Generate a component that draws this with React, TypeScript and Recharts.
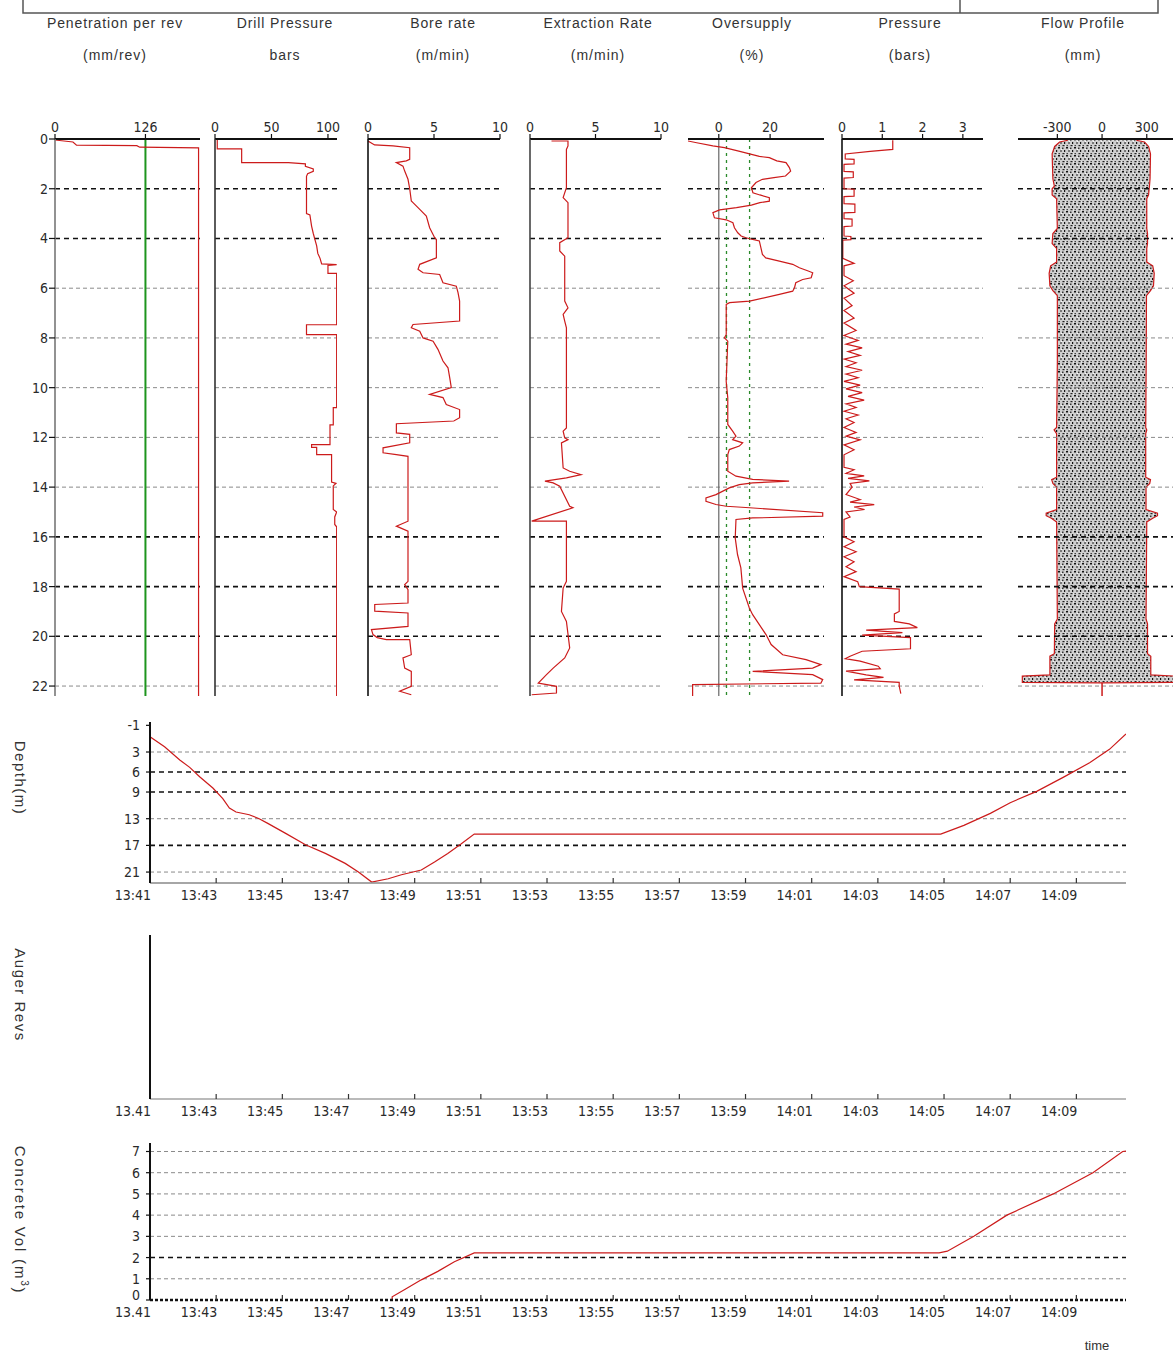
import React from 'react';
import { LineChart, Line, XAxis, YAxis, ReferenceLine, ComposedChart, Area } from 'recharts';

type Pair = [number, number];

// ---------------- DATA ----------------
const panelTitles = ['Penetration per rev', 'Drill Pressure', 'Bore rate', 'Extraction Rate', 'Oversupply', 'Pressure', 'Flow Profile'];
const panelUnits = ['(mm/rev)', 'bars', '(m/min)', '(m/min)', '(%)', '(bars)', '(mm)'];

const depthTicks = [0, 2, 4, 6, 8, 10, 12, 14, 16, 18, 20, 22];
const boldDepthGrid = [2, 4, 16, 18, 20];
const lightDepthGrid = [6, 8, 10, 12, 14, 22];

// [depth m, value]
const penetrationProfile: Pair[] = [[0.04, 0], [0.12, 25], [0.25, 30], [0.27, 114], [0.33, 118], [0.36, 200], [22.4, 200]];
const penetrationTarget = 126;

const drillPressureProfile: Pair[] = [
  [0.0, 2], [0.4, 2], [0.4, 23.6], [0.95, 23.6], [0.95, 65], [1.0, 80], [1.1, 80], [1.2, 87], [1.3, 87], [1.4, 82], [1.5, 81],
  [3.0, 81], [3.05, 84], [3.5, 85.5], [3.8, 87], [4.3, 90], [4.6, 91], [4.8, 93], [5.02, 94.4], [5.05, 107.7], [5.08, 100],
  [5.4, 100], [5.4, 107.7], [7.47, 107.7], [7.47, 81], [7.87, 81], [7.87, 107.7], [10.8, 107.7], [10.8, 104.7], [11.5, 104.7],
  [11.5, 101.8], [12.29, 101.8], [12.29, 85.5], [12.4, 85.5], [12.4, 90], [12.69, 90], [12.69, 103.2], [13.8, 103.2],
  [13.85, 107], [13.95, 104.7], [14.9, 104.7], [15.0, 107.7], [15.2, 106], [15.5, 106], [15.6, 107.7], [22.4, 107.7],
];

const boreRateProfile: Pair[] = [
  [0.08, 0], [0.24, 0.5], [0.28, 1.9], [0.35, 3.16], [0.82, 3.16], [0.88, 2.9], [0.95, 2.15], [1.09, 2.65], [1.29, 2.78],
  [1.62, 3.03], [2.0, 3.16], [2.49, 3.28], [2.56, 3.41], [2.83, 3.92], [3.1, 4.42], [3.57, 4.67], [3.97, 5.05], [4.04, 5.18],
  [4.78, 5.18], [5.04, 3.92], [5.24, 3.79], [5.38, 4.17], [5.45, 5.43], [5.78, 5.68], [5.92, 6.69], [6.18, 6.82], [6.52, 6.94],
  [7.32, 6.94], [7.46, 3.41], [7.59, 3.28], [7.73, 3.92], [8.0, 4.17], [8.13, 4.93], [8.46, 5.3], [8.93, 5.68], [9.2, 6.06],
  [9.6, 6.19], [10.0, 6.31], [10.27, 4.67], [10.4, 5.68], [10.68, 5.93], [10.88, 6.94], [11.21, 6.94], [11.34, 6.5],
  [11.45, 2.15], [11.82, 2.15], [11.88, 3.16], [12.22, 3.16], [12.42, 1.14], [12.62, 1.14], [12.69, 2.15], [12.76, 3.03],
  [15.37, 3.03], [15.57, 2.15], [15.77, 3.03], [17.79, 3.03], [17.92, 2.78], [18.12, 3.03], [18.66, 3.03], [18.72, 0.51],
  [18.99, 0.51], [19.06, 3.03], [19.6, 3.03], [19.73, 0.26], [19.93, 0.38], [20.05, 0.7], [20.13, 1.39], [20.13, 3.16],
  [20.74, 3.28], [20.87, 2.65], [21.28, 2.78], [21.41, 3.28], [22.01, 3.28], [22.21, 2.4], [22.35, 3.28],
];

const extractionRateProfile: Pair[] = [
  [0.08, 1.64], [0.08, 2.9], [0.28, 2.9], [0.42, 2.78], [1.96, 2.78], [2.36, 2.53], [2.56, 2.9], [3.97, 2.9], [4.17, 2.27],
  [4.5, 2.27], [4.71, 2.65], [6.52, 2.65], [6.79, 2.9], [7.05, 2.53], [7.32, 2.65], [7.59, 2.78], [11.62, 2.78], [11.75, 2.53],
  [12.02, 2.65], [12.09, 2.9], [12.22, 2.4], [13.23, 2.53], [13.36, 3.03], [13.5, 3.9], [13.63, 2.78], [13.76, 1.14],
  [13.83, 1.77], [13.96, 2.27], [14.77, 3.03], [14.83, 3.28], [15.37, 0.13], [15.37, 2.78], [17.79, 2.78], [18.06, 2.53],
  [19.0, 2.4], [19.4, 2.78], [20.47, 3.03], [20.87, 2.65], [21.28, 1.77], [21.54, 1.26], [21.88, 0.63], [22.01, 2.02],
  [22.28, 2.02], [22.35, 0.13],
];

const oversupplyProfile: Pair[] = [
  [0.08, -12], [0.15, -8.6], [0.28, -2.3], [0.35, 2.2], [0.48, 7.4], [0.6, 12], [0.7, 15.8], [0.75, 19.7], [0.88, 22.6],
  [0.95, 26.2], [1.15, 27.5], [1.29, 28], [1.49, 26], [1.55, 21.5], [1.62, 17], [1.75, 14.5], [1.96, 12.7], [2.16, 13.3],
  [2.25, 16], [2.36, 19.7], [2.5, 19.7], [2.56, 16], [2.66, 12.7], [2.76, 6.9], [2.85, 0.3], [2.96, -2.3], [3.17, -1.7],
  [3.25, 2.9], [3.37, 5.5], [3.57, 6.1], [3.77, 7.4], [3.9, 8.7], [3.97, 10.6], [4.04, 13.2], [4.1, 15.8], [4.37, 16.4],
  [4.64, 17], [4.78, 18.3], [4.91, 23.6], [5.04, 28.8], [5.18, 31.4], [5.3, 34.6], [5.38, 36.6], [5.58, 36], [5.65, 32.7],
  [5.78, 30], [5.98, 29.5], [6.12, 28.8], [6.25, 23.6], [6.52, 12], [6.58, 4.2], [6.65, 2.9], [7.86, 2.9], [8.0, 2.2],
  [8.13, 3.5], [9.74, 2.88], [10.41, 3.5], [11.48, 3.5], [11.75, 5.4], [11.95, 6.7], [12.09, 5.4], [12.22, 9.3], [12.35, 8.0],
  [12.49, 4.1], [12.69, 3.5], [13.36, 3.5], [13.56, 6.7], [13.69, 13.2], [13.76, 27.4], [13.83, 13.2], [13.9, 8.0],
  [14.03, 4.1], [14.3, -1.1], [14.43, -5.0], [14.57, -5.0], [14.7, -1.1], [14.77, 2.9], [14.83, 12], [15.03, 40.5],
  [15.17, 40.5], [15.24, 13.2], [15.3, 6.7], [16.04, 6.4], [16.71, 7.3], [17.25, 8.6], [18.06, 9.3], [18.86, 11.9],
  [19.13, 13.2], [19.93, 18.4], [20.33, 20.4], [20.74, 24.9], [20.94, 34], [21.14, 39.8], [21.28, 36.6], [21.41, 13.2],
  [21.54, 36.6], [21.74, 40.5], [21.88, 39.8], [21.94, -10.2], [22.4, -10.2],
];
const oversupplyBands = [3, 12];

const pressureProfile: Pair[] = [
  [0.05, 1.26], [0.42, 1.26], [0.5, 0.7], [0.6, 0.08], [0.8, 0.08], [0.82, 0.3], [1.0, 0.3], [1.02, 0.05], [1.3, 0.05],
  [1.32, 0.28], [1.55, 0.28], [1.57, 0.05], [2.0, 0.05], [2.02, 0.3], [2.3, 0.3], [2.32, 0.05], [2.6, 0.05], [2.62, 0.32],
  [2.95, 0.32], [2.97, 0.05], [3.2, 0.05], [3.22, 0.25], [3.5, 0.25], [3.52, 0.05], [3.9, 0.05], [3.92, 0.22], [4.05, 0.22],
  [4.07, 0.02], [4.8, 0.02], [5.0, 0.3], [5.1, 0.05], [5.5, 0.05], [5.7, 0.28], [5.9, 0.05], [6.2, 0.3], [6.4, 0.05],
  [6.7, 0.25], [6.9, 0.05], [7.2, 0.3], [7.4, 0.05], [7.7, 0.35], [7.9, 0.05], [8.1, 0.4], [8.25, 0.1], [8.4, 0.5],
  [8.55, 0.15], [8.7, 0.45], [8.85, 0.05], [9.0, 0.35], [9.15, 0.1], [9.3, 0.5], [9.45, 0.1], [9.6, 0.4], [9.75, 0.05],
  [9.9, 0.45], [10.05, 0.1], [10.2, 0.5], [10.35, 0.15], [10.5, 0.55], [10.65, 0.1], [10.8, 0.35], [10.95, 0.05], [11.1, 0.4],
  [11.25, 0.1], [11.4, 0.3], [11.6, 0.05], [11.8, 0.35], [11.95, 0.1], [12.1, 0.45], [12.3, 0.05], [12.5, 0.3], [12.7, 0.05],
  [13.2, 0.05], [13.3, 0.3], [13.45, 0.1], [13.55, 0.55], [13.65, 0.15], [13.75, 0.68], [13.85, 0.2], [14.0, 0.25],
  [14.3, 0.1], [14.5, 0.45], [14.6, 0.2], [14.7, 0.8], [14.8, 0.3], [14.9, 0.56], [15.0, 0.1], [15.2, 0.2], [15.3, 0.05],
  [16.0, 0.05], [16.2, 0.3], [16.4, 0.05], [16.6, 0.35], [16.8, 0.05], [17.0, 0.3], [17.2, 0.1], [17.4, 0.35], [17.6, 0.05],
  [17.8, 0.39], [18.0, 0.43], [18.1, 1.42], [19.0, 1.42], [19.1, 1.3], [19.4, 1.3], [19.5, 1.67], [19.65, 1.87],
  [19.75, 0.6], [19.85, 1.5], [19.95, 0.5], [20.05, 1.7], [20.5, 1.7], [20.6, 0.5], [20.8, 0.2], [20.9, 0.08], [21.0, 0.45],
  [21.2, 0.9], [21.3, 0.95], [21.4, 0.1], [21.55, 0.6], [21.65, 1.03], [21.75, 0.3], [21.85, 1.42], [22.0, 1.42], [22.3, 1.46],
];

const flowDepth = [0.05, 0.12, 0.3, 0.6, 1.6, 1.9, 2.0, 2.25, 2.4, 3.6, 3.8, 4.2, 4.4, 4.95, 5.1, 5.4, 5.9, 6.1, 6.3, 9.0, 11.6, 11.7, 11.85, 13.6, 13.7, 13.85, 14.0, 14.9, 15.05, 15.15, 15.25, 15.4, 19.3, 19.5, 20.7, 20.8, 21.55, 21.6, 21.85, 21.87];
const flowLeft = [-230, -285, -318, -335, -330, -320, -335, -335, -305, -300, -330, -335, -305, -305, -345, -355, -350, -330, -300, -300, -305, -322, -305, -305, -338, -330, -305, -305, -375, -375, -340, -305, -300, -318, -320, -350, -350, -535, -535, 0];
const flowRight = [230, 285, 312, 325, 322, 318, 316, 312, 300, 300, 305, 305, 300, 300, 340, 350, 345, 325, 298, 296, 293, 300, 293, 293, 325, 320, 295, 295, 372, 372, 340, 300, 295, 305, 305, 327, 327, 490, 490, 0];
const flowStub: Pair[] = [[21.87, 0], [22.4, 0]];

// time in minutes after 13:41
const timeTicks = [0, 2, 4, 6, 8, 10, 12, 14, 16, 18, 20, 22, 24, 26, 28];
const timeLabelsColon = ['13:41', '13:43', '13:45', '13:47', '13:49', '13:51', '13:53', '13:55', '13:57', '13:59', '14:01', '14:03', '14:05', '14:07', '14:09'];
const timeLabelsDot = ['13.41', '13:43', '13:45', '13:47', '13:49', '13:51', '13:53', '13:55', '13:57', '13:59', '14:01', '14:03', '14:05', '14:07', '14:09'];

const depthTimeTrace: Pair[] = [
  [0, 0.7], [0.44, 2.2], [0.9, 4.2], [1.2, 5.3], [1.5, 6.7], [1.9, 8.4], [2.2, 10.0], [2.4, 11.4], [2.6, 12.0], [3.0, 12.4],
  [3.3, 13.0], [3.56, 13.7], [4.1, 15.2], [4.7, 16.9], [5.3, 18.2], [5.9, 19.7], [6.3, 21.0], [6.7, 22.5], [7.2, 22.0],
  [7.6, 21.4], [8.2, 20.7], [8.6, 19.5], [9.0, 18.2], [9.4, 16.8], [9.8, 15.3], [23.9, 15.3], [24.6, 14.0], [25.4, 12.2],
  [26.0, 10.6], [26.8, 8.9], [27.6, 6.8], [28.4, 4.6], [29.0, 2.6], [29.5, 0.3],
];
const depthTimeTicks = [-1, 3, 6, 9, 13, 17, 21];
const depthTimeBold = [6, 9, 17];
const depthTimeLight = [3, 13, 21];

const concreteTrace: Pair[] = [
  [7.32, 0], [7.32, 0.15], [7.7, 0.5], [8.2, 0.95], [8.7, 1.35], [9.2, 1.8], [9.8, 2.22], [23.85, 2.22], [24.1, 2.3],
  [24.9, 3.0], [25.9, 4.0], [27.3, 5.0], [28.5, 6.0], [29.4, 7.0], [29.5, 7.02],
];
const concreteTicks = [0, 1, 2, 3, 4, 5, 6, 7];
const concreteBold = [2];
const concreteLight = [1, 3, 4, 5, 6, 7];

// ---------------- LAYOUT / STYLE ----------------
const TICK_FONT = "'Liberation Sans Narrow', 'DejaVu Sans Condensed', 'Arial Narrow', sans-serif";
const LABEL_FONT = "'Liberation Sans', Arial, sans-serif";
const RED = '#cc1b1b';
const INK = '#2a2a2a';

const headerCenters = [115, 285, 443, 598, 752, 910, 1083];
const PANEL_PLOT_TOP = 139;
const PANEL_XAXIS_H = 40;
const DEPTH_MAX = 22.4;
const PANEL_PLOT_H = 557;

const BOLD_DASH = { stroke: '#111', strokeWidth: 1.6, strokeDasharray: '5 4' };
const LIGHT_DASH = { stroke: '#8a8a8a', strokeWidth: 1, strokeDasharray: '4 3' };

const rowsOf = (pairs: Pair[]) => pairs.map(([depth, v]) => ({ depth, v }));

function depthGrid() {
  return [
    ...boldDepthGrid.map((d) => <ReferenceLine key={'b' + d} y={d} {...BOLD_DASH} />),
    ...lightDepthGrid.map((d) => <ReferenceLine key={'l' + d} y={d} {...LIGHT_DASH} />),
  ];
}

interface PanelProps {
  plotLeft: number;
  plotWidth: number;
  domain: [number, number];
  ticks: number[];
  data: Pair[];
  yMode: 'labels' | 'ticks' | 'none';
  yColor?: string;
  extra?: React.ReactNode[];
}

function DepthPanel(p: PanelProps) {
  const yw = p.yMode === 'labels' ? 40 : p.yMode === 'ticks' ? 10 : 0;
  const rm = 12;
  return (
    <div style={{ position: 'absolute', left: p.plotLeft - yw, top: PANEL_PLOT_TOP - PANEL_XAXIS_H }}>
      <LineChart
        layout="vertical"
        width={yw + p.plotWidth + rm}
        height={PANEL_XAXIS_H + PANEL_PLOT_H}
        data={rowsOf(p.data)}
        margin={{ top: 0, right: rm, bottom: 0, left: 0 }}
      >
        <XAxis
          type="number"
          orientation="top"
          domain={p.domain}
          ticks={p.ticks}
          interval={0}
          allowDataOverflow
          height={PANEL_XAXIS_H}
          axisLine={{ stroke: '#111', strokeWidth: 2 }}
          tickLine={{ stroke: '#111', strokeWidth: 1.2 }}
          tickSize={5}
          tickMargin={2}
          tick={{ fontSize: 14, fill: INK, fontFamily: TICK_FONT }}
        />
        <YAxis
          type="number"
          dataKey="depth"
          domain={[0, DEPTH_MAX]}
          ticks={depthTicks}
          interval={0}
          allowDataOverflow
          hide={p.yMode === 'none'}
          width={yw}
          axisLine={{ stroke: p.yColor ?? '#111', strokeWidth: 1.6 }}
          tickLine={{ stroke: '#111', strokeWidth: 1.2 }}
          tickSize={p.yMode === 'labels' ? 6 : 8}
          tickMargin={1}
          tick={p.yMode === 'labels' ? { fontSize: 14, fill: INK, fontFamily: TICK_FONT } : false}
        />
        {depthGrid()}
        {p.extra}
        <Line dataKey="v" type="linear" stroke={RED} strokeWidth={1.2} dot={false} isAnimationActive={false} />
      </LineChart>
    </div>
  );
}

function FlowPanel() {
  const plotLeft = 1018;
  const plotWidth = 155;
  const rows = flowDepth.map((depth, i) => ({ depth, l: flowLeft[i], r: flowRight[i] }));
  const stubRows = rowsOf(flowStub);
  return (
    <div style={{ position: 'absolute', left: plotLeft, top: PANEL_PLOT_TOP - PANEL_XAXIS_H }}>
      <ComposedChart
        layout="vertical"
        width={plotWidth}
        height={PANEL_XAXIS_H + PANEL_PLOT_H}
        data={rows}
        margin={{ top: 0, right: 0, bottom: 0, left: 0 }}
      >
        <defs>
          <pattern id="stipple" width="8" height="8" patternUnits="userSpaceOnUse">
            <rect width="8" height="8" fill="#cfcfcf" />
            <rect x="0" y="0" width="2" height="1.5" fill="#111" />
            <rect x="4" y="0.5" width="1.5" height="1.5" fill="#333" />
            <rect x="2" y="3.5" width="2" height="1" fill="#222" />
            <rect x="6" y="3" width="1.2" height="2" fill="#111" />
            <rect x="0.5" y="6" width="1.5" height="1.2" fill="#444" />
            <rect x="4.5" y="6" width="2" height="1.2" fill="#222" />
            <rect x="3" y="2" width="1" height="1" fill="#fafafa" />
            <rect x="7" y="6.5" width="1" height="1" fill="#fafafa" />
          </pattern>
        </defs>
        <XAxis
          type="number"
          orientation="top"
          domain={[-564, 476]}
          ticks={[-300, 0, 300]}
          interval={0}
          allowDataOverflow
          height={PANEL_XAXIS_H}
          axisLine={{ stroke: '#111', strokeWidth: 2 }}
          tickLine={{ stroke: '#111', strokeWidth: 1.2 }}
          tickSize={5}
          tickMargin={2}
          tick={{ fontSize: 14, fill: INK, fontFamily: TICK_FONT }}
        />
        <YAxis type="number" dataKey="depth" domain={[0, DEPTH_MAX]} allowDataOverflow hide />
        {depthGrid()}
        <Area dataKey="l" type="linear" baseValue={0} fill="url(#stipple)" fillOpacity={1} stroke={RED} strokeWidth={1.2} isAnimationActive={false} />
        <Area dataKey="r" type="linear" baseValue={0} fill="url(#stipple)" fillOpacity={1} stroke={RED} strokeWidth={1.2} isAnimationActive={false} />
        <Line data={stubRows} dataKey="v" type="linear" stroke={RED} strokeWidth={1.5} dot={false} isAnimationActive={false} />
      </ComposedChart>
    </div>
  );
}

// ---- time charts
const TIME_PLOT_LEFT = 150;
const TIME_PLOT_W = 976;
const TIME_DOMAIN: [number, number] = [0, 29.5];

const makeTimeTick = (labels: string[]) => (props: any) => {
  const { x, y, payload } = props;
  const i = timeTicks.indexOf(payload.value);
  return (
    <g>
      {i > 0 && <line x1={x} x2={x} y1={y} y2={y - 5} stroke="#333" strokeWidth={1.2} />}
      <text x={x + 1} y={y + 17} textAnchor="end" fontSize={14} fill={INK} fontFamily={TICK_FONT}>
        {labels[i]}
      </text>
    </g>
  );
};

const makeValueTick = (liftZero: boolean) => (props: any) => {
  const { x, y, payload } = props;
  const lift = liftZero && payload.value === 0 ? -5 : 0;
  return (
    <text x={x} y={y + lift} dy={5} textAnchor="end" fontSize={14} fill={INK} fontFamily={TICK_FONT}>
      {payload.value}
    </text>
  );
};

interface TimeChartProps {
  plotTop: number;
  plotHeight: number;
  yDomain: [number, number];
  yTicks?: number[];
  reversed?: boolean;
  data?: Pair[];
  bold: number[];
  light: number[];
  labels: string[];
  xAxisLine: any;
  liftZero?: boolean;
}

function TimeChart(p: TimeChartProps) {
  const yw = 40;
  const top = 8;
  const xh = 30;
  const rm = 14;
  const rows = (p.data ?? []).map(([t, v]) => ({ t, v }));
  return (
    <div style={{ position: 'absolute', left: TIME_PLOT_LEFT - yw, top: p.plotTop - top }}>
      <LineChart
        width={yw + TIME_PLOT_W + rm}
        height={top + p.plotHeight + xh}
        data={rows}
        margin={{ top, right: rm, bottom: 0, left: 0 }}
      >
        <XAxis
          type="number"
          dataKey="t"
          domain={TIME_DOMAIN}
          ticks={timeTicks}
          interval={0}
          allowDataOverflow
          height={xh}
          axisLine={p.xAxisLine}
          tickLine={false}
          tickSize={0}
          tickMargin={0}
          tick={makeTimeTick(p.labels)}
        />
        <YAxis
          type="number"
          domain={p.yDomain}
          ticks={p.yTicks ?? []}
          interval={0}
          allowDataOverflow
          reversed={p.reversed}
          width={yw}
          axisLine={{ stroke: '#111', strokeWidth: 2 }}
          tickLine={p.yTicks ? { stroke: '#111', strokeWidth: 1.2 } : false}
          tickSize={4}
          tickMargin={6}
          tick={p.yTicks ? makeValueTick(!!p.liftZero) : false}
        />
        {p.bold.map((v) => <ReferenceLine key={'b' + v} y={v} {...BOLD_DASH} />)}
        {p.light.map((v) => <ReferenceLine key={'l' + v} y={v} {...LIGHT_DASH} />)}
        {p.data && <Line dataKey="v" type="linear" stroke={RED} strokeWidth={1.2} dot={false} isAnimationActive={false} />}
      </LineChart>
    </div>
  );
}

function Overlay() {
  const t = { fontFamily: LABEL_FONT, fill: '#333' } as const;
  return (
    <svg width={1173} height={1353} style={{ position: 'absolute', left: 0, top: 0 }}>
      <rect x={23} y={-5} width={1135} height={18} fill="none" stroke="#555" strokeWidth={1.5} />
      <line x1={960} x2={960} y1={-5} y2={13} stroke="#555" strokeWidth={1.5} />
      {panelTitles.map((s, i) => (
        <text key={'t' + i} x={headerCenters[i]} y={28} textAnchor="middle" fontSize={14} letterSpacing={0.9} {...t}>{s}</text>
      ))}
      {panelUnits.map((s, i) => (
        <text key={'u' + i} x={headerCenters[i]} y={60} textAnchor="middle" fontSize={14} letterSpacing={1} {...t}>{s}</text>
      ))}
      <text transform="translate(20,778) rotate(90)" textAnchor="middle" dominantBaseline="central" fontSize={15} letterSpacing={1.5} {...t}>Depth(m)</text>
      <text transform="translate(20,995) rotate(90)" textAnchor="middle" dominantBaseline="central" fontSize={15} letterSpacing={1.5} {...t}>Auger Revs</text>
      <text transform="translate(20,1220) rotate(90)" textAnchor="middle" dominantBaseline="central" fontSize={15} letterSpacing={1.8} {...t}>
        Concrete Vol (m<tspan dy={-5} fontSize={10}>3</tspan><tspan dy={5}>)</tspan>
      </text>
      <text x={1097} y={1350} textAnchor="middle" fontSize={13} {...t}>time</text>
    </svg>
  );
}

export default function App() {
  return (
    <div style={{ position: 'absolute', left: 0, top: 0, width: 1173, height: 1353, overflow: 'hidden', background: '#fff' }}>
      <Overlay />
      <DepthPanel
        plotLeft={55}
        plotWidth={145}
        domain={[0, 202]}
        ticks={[0, 126]}
        data={penetrationProfile}
        yMode="labels"
        yColor="#777"
        extra={[<ReferenceLine key="g" x={penetrationTarget} stroke="#1e951e" strokeWidth={2} />]}
      />
      <DepthPanel plotLeft={215} plotWidth={122} domain={[0, 108]} ticks={[0, 50, 100]} data={drillPressureProfile} yMode="ticks" yColor="#333" />
      <DepthPanel plotLeft={368} plotWidth={132} domain={[0, 10]} ticks={[0, 5, 10]} data={boreRateProfile} yMode="ticks" yColor="#111" />
      <DepthPanel plotLeft={530} plotWidth={131} domain={[0, 10]} ticks={[0, 5, 10]} data={extractionRateProfile} yMode="ticks" yColor="#444" />
      <DepthPanel
        plotLeft={688}
        plotWidth={136}
        domain={[-12, 41]}
        ticks={[0, 20]}
        data={oversupplyProfile}
        yMode="none"
        extra={[
          <ReferenceLine key="z" x={0} stroke="#666" strokeWidth={1.2} />,
          ...oversupplyBands.map((b) => (
            <ReferenceLine key={'ob' + b} x={b} stroke="#2a8a2a" strokeWidth={1.3} strokeDasharray="3 4" />
          )),
        ]}
      />
      <DepthPanel plotLeft={842} plotWidth={141} domain={[0, 3.5]} ticks={[0, 1, 2, 3]} data={pressureProfile} yMode="ticks" yColor="#111" />
      <FlowPanel />

      <TimeChart
        plotTop={722}
        plotHeight={161}
        yDomain={[-1.5, 22.64]}
        yTicks={depthTimeTicks}
        reversed
        data={depthTimeTrace}
        bold={depthTimeBold}
        light={depthTimeLight}
        labels={timeLabelsColon}
        xAxisLine={{ stroke: '#888', strokeWidth: 1.5 }}
      />
      <TimeChart
        plotTop={935}
        plotHeight={164}
        yDomain={[0, 1]}
        bold={[]}
        light={[]}
        labels={timeLabelsDot}
        xAxisLine={{ stroke: '#777', strokeWidth: 1.2 }}
      />
      <TimeChart
        plotTop={1143}
        plotHeight={157}
        yDomain={[0, 7.4]}
        yTicks={concreteTicks}
        data={concreteTrace}
        bold={concreteBold}
        light={concreteLight}
        labels={timeLabelsDot}
        xAxisLine={{ stroke: '#111', strokeWidth: 2.5, strokeDasharray: '3 2' }}
        liftZero
      />
    </div>
  );
}
